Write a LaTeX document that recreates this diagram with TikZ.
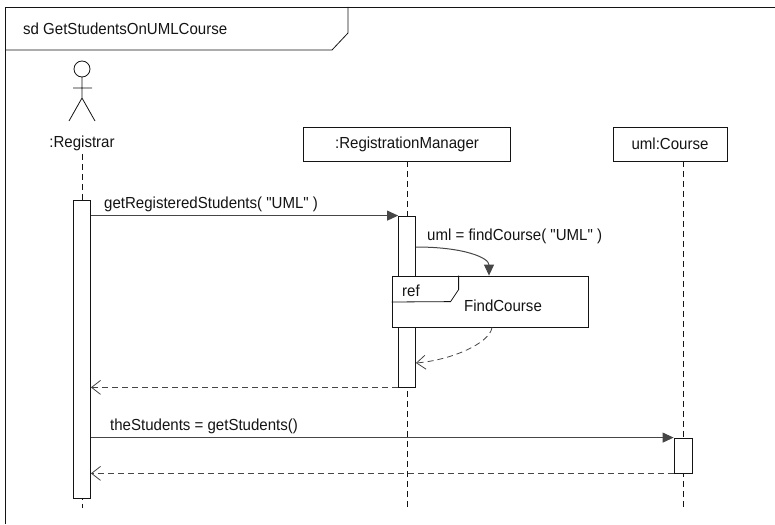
\documentclass[tikz,border=0pt]{standalone}
\usepackage{fontspec}
\setmainfont{Liberation Sans}[FakeStretch=0.94, Ligatures=TeXOff]
\usepackage{tikz}
\usetikzlibrary{positioning,arrows.meta}
\definecolor{inkc}{RGB}{20,20,20}
\definecolor{msgc}{RGB}{70,70,70}

\begin{document}
\begin{tikzpicture}[x=1pt, y=-1pt,
  every node/.style={font=\fontsize{16}{19}\selectfont, text=inkc},
  frame/.style={draw=inkc, line width=0.8pt},
  head/.style={draw=inkc, line width=0.8pt, fill=white, minimum height=34pt, inner sep=0pt},
  life/.style={draw=inkc, line width=0.8pt, dash pattern=on 6pt off 4pt},
  act/.style={draw=inkc, line width=0.8pt, fill=white, minimum width=17pt, inner sep=0pt},
  call/.style={draw=msgc, line width=1pt, -{Triangle[length=11pt,width=10pt]}},
  reply/.style={draw=msgc, line width=0.8pt, dash pattern=on 6pt off 4pt, -{Straight Barb[length=9pt,width=14pt]}},
  lbl/.style={anchor=base west, inner sep=0pt},
]
\useasboundingbox (0,0) rectangle (775,524);
\def\rx{82}     % registrar lifeline
\def\mx{407}    % manager lifeline
\def\cx{683}    % course lifeline

% ---- frame ----
\draw[frame] (5,524) -- (5,7) -- (775,7);
\draw[frame] (5,50) -- (332,50) -- (348,33) -- (348,7);
\node[lbl] (title) at (23,35) {sd GetStudentsOnUMLCourse};

% ---- actor ----
\coordinate (actor) at (\rx,69);
\draw[frame] (actor) circle[radius=8];
\draw[frame] (\rx,77) -- (\rx,98) (73,88) -- (92,88) (69,121) -- (\rx,98) -- (95,121);
\node[anchor=base] (reg) at (\rx,147) {:Registrar};

% ---- heads ----
\node[head, minimum width=207pt] (rm) at (\mx,144) {:RegistrationManager};
\node[head, minimum width=114pt] (course) at (670,144) {uml:Course};

% ---- lifelines ----
\coordinate (regEnd) at (\rx,508);
\coordinate (rmEnd) at (\mx,507);
\coordinate (crsEnd) at (\cx,507);
\draw[life] (reg.south) -- (regEnd);
\draw[life] (rm.south) -- (rmEnd);
\draw[life] (course.south -| crsEnd) -- (crsEnd);

% ---- activations ----
\node[act, minimum height=298pt] (actR) at (\rx,349) {};
\node[act, minimum height=171pt] (actM) at (\mx,301.5) {};
\node[act, minimum height=35pt, minimum width=18pt] (actC) at (\cx,455.5) {};

% 1 getRegisteredStudents
\draw[call] (actR.east |- actM.north) -- (actM.north west);
\node[lbl] (m1) at (104,208) {getRegisteredStudents( "UML" )};

% 2 ref FindCourse
\node[frame, fill=white, minimum width=196pt, minimum height=51pt, inner sep=0pt] (ref) at (490,301.5) {};
\draw[frame] (ref.north west) ++(67,0) -- ++(0,14) -- ++(-8,12) -- (ref.north west |- 0,302);
\node[lbl] (reftag) at (402,296) {ref};
\node (refname) at (503,306) {FindCourse};
\node[lbl] (m2) at (427,240) {uml = findCourse( "UML" )};
\draw[call] (actM.east |- 0,247) .. controls (465,247) and (489,258) .. (ref.north -| 489,0);
\draw[reply] (ref.south -| 492,0) .. controls (490,343) and (452,360) .. (actM.east |- 0,363);
\draw[reply] (actM.south west) -- (actR.east |- actM.south);

% 3 getStudents
\draw[call] (actR.east |- actC.north) -- (actC.north west);
\node[lbl] (m3) at (110,430) {theStudents = getStudents()};
\draw[reply] (actC.south west) -- (actR.east |- actC.south);

\end{tikzpicture}
\end{document}
